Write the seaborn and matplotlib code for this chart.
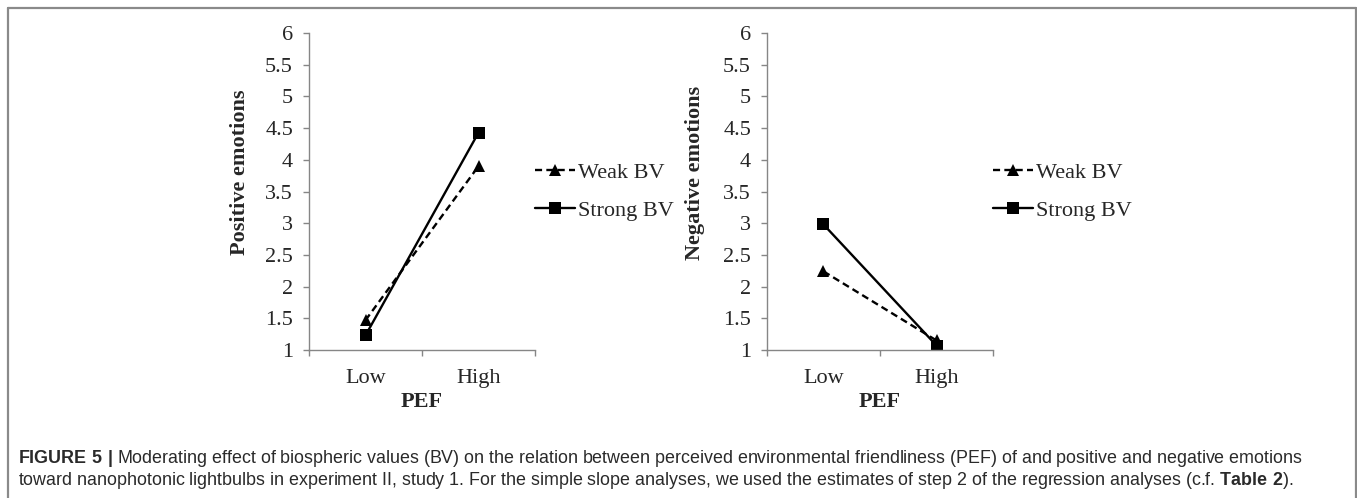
import pandas as pd
import seaborn as sns
import matplotlib.pyplot as plt
from matplotlib.ticker import FixedLocator, NullFormatter, FormatStrFormatter

# --- data ---
levels = ["Low", "High"]
groups = ["Weak BV", "Strong BV"]
positive_weak = [1.47, 3.90]
positive_strong = [1.23, 4.43]
negative_weak = [2.24, 1.15]
negative_strong = [2.98, 1.07]

y_ticks = [1, 1.5, 2, 2.5, 3, 3.5, 4, 4.5, 5, 5.5, 6]


def long_form(weak, strong):
    rows = []
    for g, vals in zip(groups, [weak, strong]):
        for pos, (lvl, v) in enumerate(zip(levels, vals)):
            rows.append({"PEF": pos, "level": lvl, "group": g, "value": v})
    return pd.DataFrame(rows)


sns.set_theme(style="white")
plt.rcParams["font.family"] = ["Liberation Serif", "DejaVu Serif"]
plt.rcParams["mathtext.fontset"] = "custom"
plt.rcParams["mathtext.rm"] = "Liberation Sans"
plt.rcParams["mathtext.bf"] = "Liberation Sans:bold"

fig = plt.figure(figsize=(13.57, 4.98), dpi=100)
axes = [fig.add_axes([0.2277, 0.2972, 0.1666, 0.6365]),
        fig.add_axes([0.5652, 0.2972, 0.1666, 0.6365])]

panels = [
    (axes[0], long_form(positive_weak, positive_strong), "Positive emotions", -0.305),
    (axes[1], long_form(negative_weak, negative_strong), "Negative emotions", -0.319),
]

axis_grey = "#868686"
fs = 16
for ax, df, ylabel, lx in panels:
    sns.lineplot(data=df, x="PEF", y="value", hue="group", style="group",
                 hue_order=groups, style_order=groups,
                 palette=["black", "black"],
                 markers={"Weak BV": "^", "Strong BV": "s"},
                 dashes={"Weak BV": (3, 1.8), "Strong BV": ""},
                 markersize=8.5, markeredgewidth=0, linewidth=1.7, ax=ax)

    ax.set_xlim(-0.5, 1.5)
    ax.set_ylim(1, 6)
    ax.yaxis.set_major_locator(FixedLocator(y_ticks))
    ax.yaxis.set_major_formatter(FormatStrFormatter("%g"))
    ax.xaxis.set_major_locator(FixedLocator([-0.5, 0.5, 1.5]))
    ax.xaxis.set_major_formatter(NullFormatter())
    ax.xaxis.set_minor_locator(FixedLocator([0, 1]))
    ax.set_xticks([0, 1], levels, minor=True)

    for side in ["top", "right"]:
        ax.spines[side].set_visible(False)
    for side in ["left", "bottom"]:
        ax.spines[side].set_color(axis_grey)
        ax.spines[side].set_linewidth(1.0)

    ax.tick_params(axis="y", which="major", direction="out", length=4.5, width=1,
                   color=axis_grey, labelsize=fs, pad=7, left=True)
    ax.tick_params(axis="x", which="major", direction="out", length=4.5, width=1,
                   color=axis_grey, bottom=True)
    ax.tick_params(axis="x", which="minor", length=0, labelsize=fs, pad=13.5)

    ax.set_ylabel(ylabel, fontsize=fs, fontweight="bold")
    ax.yaxis.set_label_coords(lx, 0.56)
    ax.yaxis.label.set_va("center")
    ax.set_xlabel("PEF", fontsize=fs, fontweight="bold")
    ax.xaxis.set_label_coords(0.5, -0.165)
    ax.xaxis.label.set_va("center")

    handles, labels = ax.get_legend_handles_labels()
    ax.legend(handles, labels, loc="center left", bbox_to_anchor=(1.0, 0.5),
              frameon=False, fontsize=fs, handlelength=1.8, handletextpad=0.15,
              labelspacing=0.78, borderaxespad=0, borderpad=0, numpoints=1)

# frame around the figure panel
frame_grey = "#8a8a8a"
fig.add_artist(plt.Line2D([8 / 1357, 1356 / 1357], [1 - 8 / 498, 1 - 8 / 498],
                          color=frame_grey, lw=1.6, transform=fig.transFigure))
fig.add_artist(plt.Line2D([8 / 1357, 8 / 1357], [0, 1 - 8 / 498],
                          color=frame_grey, lw=1.6, transform=fig.transFigure))
fig.add_artist(plt.Line2D([1356 / 1357, 1356 / 1357], [0, 1 - 8 / 498],
                          color=frame_grey, lw=1.6, transform=fig.transFigure))

caption_1 = (r"$\bf{FIGURE\ 5\ |}$ Moderating effect of biospheric values (BV) on the relation "
             "between perceived environmental friendliness (PEF) of and positive and negative emotions")
caption_2 = (r"toward nanophotonic lightbulbs in experiment II, study 1. For the simple slope "
             r"analyses, we used the estimates of step 2 of the regression analyses (c.f. $\bf{Table\ 2}$).")
fig.text(18 / 1357, 1 - 458 / 498, caption_1, fontsize=12.9, color="#2a2a2a",
         family="Liberation Sans", va="center", ha="left")
fig.text(18 / 1357, 1 - 480 / 498, caption_2, fontsize=12.9, color="#2a2a2a",
         family="Liberation Sans", va="center", ha="left")

fig.savefig("out.png", dpi=100)
